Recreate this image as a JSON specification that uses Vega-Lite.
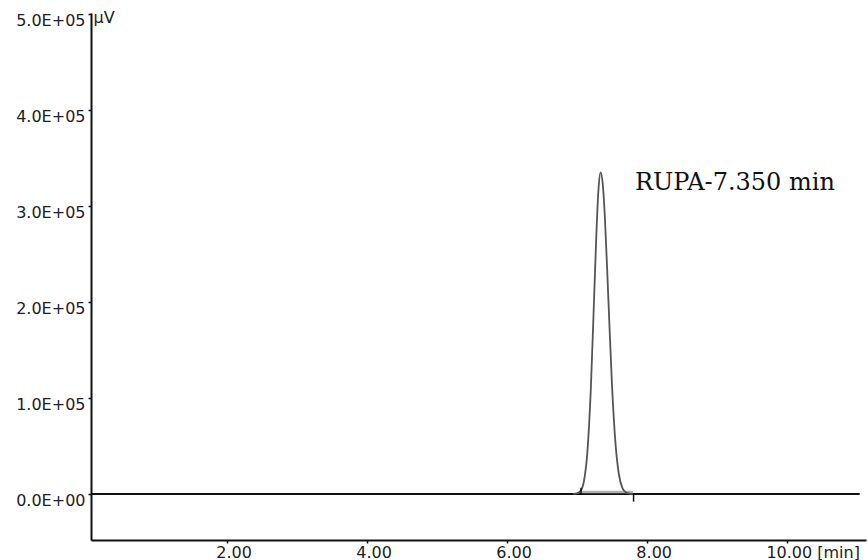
{
  "$schema": "https://vega.github.io/schema/vega-lite/v6.json",
  "width": 775,
  "height": 527,
  "autosize": {"type": "none"},
  "padding": {"left": 91, "top": 13, "right": 2, "bottom": 20},
  "background": "white",
  "config": {
    "view": {"stroke": null},
    "axis": {"grid": false, "labelFont": "DejaVu Sans", "labelFontSize": 16, "labelColor": "#222", "domainColor": "#111", "domainWidth": 2, "tickColor": "#111", "tickWidth": 1.5, "tickSize": 3}
  },
  "datasets": {
    "trace": [
      {"t": 6.95, "uv": 0},
      {"t": 7.0, "uv": 480},
      {"t": 7.05, "uv": 2870},
      {"t": 7.1, "uv": 12900},
      {"t": 7.15, "uv": 43500},
      {"t": 7.2, "uv": 110500},
      {"t": 7.25, "uv": 212000},
      {"t": 7.28, "uv": 273000},
      {"t": 7.31, "uv": 318400},
      {"t": 7.34, "uv": 335000},
      {"t": 7.37, "uv": 322700},
      {"t": 7.4, "uv": 288700},
      {"t": 7.45, "uv": 203200},
      {"t": 7.5, "uv": 116300},
      {"t": 7.55, "uv": 54200},
      {"t": 7.6, "uv": 20500},
      {"t": 7.65, "uv": 6330},
      {"t": 7.7, "uv": 1580},
      {"t": 7.75, "uv": 320},
      {"t": 7.8, "uv": 0}
    ],
    "baseline": [{"t": 0.06, "t2": 11.04, "uv": 0}],
    "integration": [{"t": 7.07, "t2": 7.8, "uv": 2000}],
    "marks": [
      {"t": 7.06, "uv": 0, "uv2": 6500},
      {"t": 7.81, "uv": 0, "uv2": -8000}
    ],
    "label": [{"t": 7.83, "uv": 317000, "text": "RUPA-7.350 min"}]
  },
  "layer": [
    {
      "data": {"name": "baseline"},
      "mark": {"type": "rule", "color": "#111", "strokeWidth": 2},
      "encoding": {
        "x": {"field": "t", "type": "quantitative", "scale": {"domain": [0.06, 11.13], "nice": false, "zero": false},
          "axis": {"title": null, "values": [2, 4, 6, 8, 10], "labelAlign": "left", "labelOffset": {"expr": "datum.value == 10 ? -21 : -11"}, "labelPadding": 1,
            "labelExpr": "datum.value == 10 ? '10.00 [min]' : format(datum.value, '.2f')"}},
        "x2": {"field": "t2"},
        "y": {"field": "uv", "type": "quantitative", "scale": {"domain": [-48000, 501000], "nice": false, "zero": false},
          "axis": {"title": "µV", "titleAngle": 0, "titleX": 2, "titleY": 4, "titleAlign": "left", "titleBaseline": "middle",
            "titleFont": "DejaVu Sans", "titleFontSize": 16, "titleFontWeight": "normal", "titleColor": "#222",
            "values": [0, 100000, 200000, 300000, 400000, 500000], "labelPadding": 3, "labelOffset": 7,
            "labelExpr": "datum.value == 0 ? '0.0E+00' : format(datum.value / 100000, '.1f') + 'E+05'"}}
      }
    },
    {
      "data": {"name": "integration"},
      "mark": {"type": "rule", "color": "#b0b0b0", "strokeWidth": 2.5},
      "encoding": {
        "x": {"field": "t", "type": "quantitative"},
        "x2": {"field": "t2"},
        "y": {"field": "uv", "type": "quantitative"}
      }
    },
    {
      "data": {"name": "trace"},
      "mark": {"type": "line", "color": "#555", "strokeWidth": 1.8, "interpolate": "monotone"},
      "encoding": {
        "x": {"field": "t", "type": "quantitative"},
        "y": {"field": "uv", "type": "quantitative"}
      }
    },
    {
      "data": {"name": "marks"},
      "mark": {"type": "rule", "color": "#111", "strokeWidth": 1.5},
      "encoding": {
        "x": {"field": "t", "type": "quantitative"},
        "y": {"field": "uv", "type": "quantitative"},
        "y2": {"field": "uv2"}
      }
    },
    {
      "data": {"name": "label"},
      "mark": {"type": "text", "font": "DejaVu Serif", "fontSize": 24, "align": "left", "baseline": "alphabetic", "color": "#111"},
      "encoding": {
        "x": {"field": "t", "type": "quantitative"},
        "y": {"field": "uv", "type": "quantitative"},
        "text": {"field": "text"}
      }
    }
  ]
}
